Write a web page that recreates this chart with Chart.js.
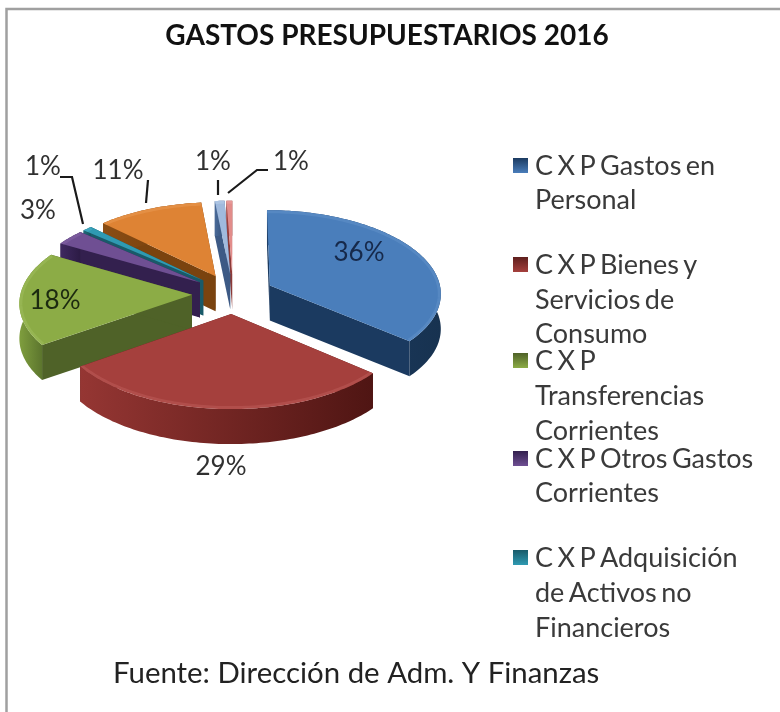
<!DOCTYPE html>
<html lang="es">
<head>
<meta charset="utf-8">
<title>Gastos presupuestarios 2016</title>
<script src="https://cdn.jsdelivr.net/npm/chart.js@4/dist/chart.umd.min.js"></script>
<style>
html,body{margin:0;padding:0;background:#fff;width:780px;height:712px;overflow:hidden}
#c{display:block;filter:blur(0.6px)}
</style>
</head>
<body>
<canvas id="c" width="780" height="712"></canvas>
<script>
const chartTitle = 'GASTOS PRESUPUESTARIOS 2016';
const sourceNote = 'Fuente: Dirección de Adm. Y Finanzas';
const categories = [
  'C X P Gastos en Personal',
  'C X P Bienes y Servicios de Consumo',
  'C X P Transferencias Corrientes',
  'C X P Otros Gastos Corrientes',
  'C X P Adquisición de Activos no Financieros',
  'Categoría fuera de la leyenda 1',
  'Categoría fuera de la leyenda 2',
  'Categoría fuera de la leyenda 3'
];
const values = [36, 29, 18, 3, 1, 11, 1, 0.6];
const legendLines = [
  ['C X P Gastos en', 'Personal'],
  ['C X P Bienes y', 'Servicios de', 'Consumo'],
  ['C X P', 'Transferencias', 'Corrientes'],
  ['C X P Otros Gastos', 'Corrientes'],
  ['C X P Adquisición', 'de Activos no', 'Financieros']
];
const topColors  = ['#4A7EBB','#A5403D','#8CAC46','#6F4F93','#2F9AB2','#DE8334','#A0BADD','#E28C8A'];
const bevelColors= ['#6E9BD1','#C96A66','#A9C76A','#8E6FB0','#5DBBD0','#F0A765','#C4D6EE','#F0B0AE'];
const wallColors = ['#1B3A60','#5E1F1D','#4F6228','#33204E','#195A69','#7A430F','#3D5A85','#8C3A38'];
const rimLeft    = ['#1F4069','#953633','#7F9E3E','#3F2960','#1F6A7A','#8A4D14','#4A6A98','#A04543'];
const rimRight   = ['#173250','#4F1513','#4E6527','#2C1B45','#174F5C','#6E3B0C','#33507A','#7E3230'];

// placement and perspective of the tilted pie
const PIE_X = 233, TILT = 0.485, PERSP = 0.0005, DEPTH = 35;

function proj(arc, X, Y, drop) {
  const w = 1 - PERSP * Y;
  return [PIE_X + X / w, arc.y + TILT * Y / w + (drop || 0)];
}
function slicePts(arc) {
  const mid = (arc.startAngle + arc.endAngle) / 2;
  const d = (arc.options.offset || 0) / 4;
  const ax = Math.cos(mid) * d, ay = Math.sin(mid) * d;
  const n = Math.max(4, Math.ceil((arc.endAngle - arc.startAngle) / 0.02));
  const rim = [];
  for (let i = 0; i <= n; i++) {
    const a = arc.startAngle + (arc.endAngle - arc.startAngle) * i / n;
    rim.push([ax + arc.outerRadius * Math.cos(a), ay + arc.outerRadius * Math.sin(a)]);
  }
  return {ax, ay, rim};
}
function poly(ctx, pts) {
  ctx.beginPath();
  pts.forEach((p, i) => i ? ctx.lineTo(p[0], p[1]) : ctx.moveTo(p[0], p[1]));
  ctx.closePath();
}
function drawSlice(ctx, arc, i) {
  const {ax, ay, rim} = slicePts(arc);
  const A = proj(arc, ax, ay), Ab = proj(arc, ax, ay, DEPTH);
  const top = rim.map(p => proj(arc, p[0], p[1]));
  const bot = rim.map(p => proj(arc, p[0], p[1], DEPTH));
  // straight inner walls
  ctx.fillStyle = wallColors[i];
  poly(ctx, [A, top[0], bot[0], Ab]); ctx.fill();
  poly(ctx, [A, top[top.length - 1], bot[bot.length - 1], Ab]); ctx.fill();
  // curved outer rim
  const xs = top.map(p => p[0]);
  const g = ctx.createLinearGradient(Math.min(...xs), 0, Math.max(...xs), 0);
  g.addColorStop(0, rimLeft[i]); g.addColorStop(1, rimRight[i]);
  ctx.fillStyle = g;
  poly(ctx, top.concat(bot.slice().reverse())); ctx.fill();
  // top face with a soft bevel along the outer edge
  ctx.save();
  poly(ctx, [A].concat(top));
  ctx.fillStyle = topColors[i];
  ctx.fill();
  ctx.clip();
  ctx.beginPath();
  top.forEach((p, j) => j ? ctx.lineTo(p[0], p[1]) : ctx.moveTo(p[0], p[1]));
  ctx.strokeStyle = bevelColors[i];
  ctx.globalAlpha = 0.35;
  ctx.lineWidth = 6;
  ctx.stroke();
  ctx.restore();
}

const pctSpots = [[359,253],[221,467],[55,301],[38,211],[43,167],[118,171],[213,162],[291,162]];
const leaders = [
  [[60,177],[72,177],[83,224]],
  [[148,180],[146,203]],
  [[218,180],[218,195]],
  [[268,170],[257,170],[228,193]]
];
const legendRows = [[165,199],[264,299,333],[360,395,430],[458,492],[557,592,627]];

const pie3d = {
  id: 'pie3d',
  beforeDatasetsDraw(chart) {
    const ctx = chart.ctx;
    const arcs = chart.getDatasetMeta(0).data;
    const order = arcs.map((a, i) => i).sort((p, q) =>
      Math.sin((arcs[p].startAngle + arcs[p].endAngle) / 2) - Math.sin((arcs[q].startAngle + arcs[q].endAngle) / 2));
    order.forEach(i => drawSlice(ctx, arcs[i], i));
    return false;
  },
  afterDraw(chart) {
    const ctx = chart.ctx;
    ctx.save();
    // frame
    ctx.strokeStyle = '#a0a0a0';
    ctx.lineWidth = 2.5;
    ctx.beginPath(); ctx.moveTo(6.5, 712); ctx.lineTo(6.5, 9); ctx.lineTo(780, 9); ctx.stroke();
    // leader lines
    ctx.strokeStyle = '#1a1a1a';
    ctx.lineWidth = 2.2;
    leaders.forEach(l => {
      ctx.beginPath();
      l.forEach((p, i) => i ? ctx.lineTo(p[0], p[1]) : ctx.moveTo(p[0], p[1]));
      ctx.stroke();
    });
    // percent labels
    ctx.textBaseline = 'middle';
    ctx.textAlign = 'center';
    ctx.font = '26px Lato';
    values.forEach((v, i) => {
      ctx.fillStyle = i === 0 ? '#16294a' : i === 2 ? '#1c2a10' : '#303030';
      ctx.fillText(Math.round(v) + '%', pctSpots[i][0], pctSpots[i][1]);
    });
    // legend
    ctx.textAlign = 'left';
    ctx.font = '27px Lato';
    ctx.wordSpacing = '-2.5px';
    legendLines.forEach((lines, i) => {
      const rows = legendRows[i];
      const g = ctx.createLinearGradient(0, rows[0] - 7, 0, rows[0] + 8);
      g.addColorStop(0, wallColors[i]); g.addColorStop(1, topColors[i]);
      ctx.fillStyle = g;
      ctx.fillRect(513, rows[0] - 7, 15, 15);
      ctx.fillStyle = '#3a3a3a';
      lines.forEach((t, j) => ctx.fillText(t, 535, rows[j] + 1));
    });
    ctx.wordSpacing = '0px';
    // source note
    ctx.font = '29.4px Lato';
    ctx.fillStyle = '#222';
    ctx.fillText(sourceNote, 113, 674);
    ctx.restore();
  }
};

new Chart(document.getElementById('c'), {
  type: 'pie',
  data: {
    labels: categories,
    datasets: [{
      data: values,
      backgroundColor: topColors,
      offset: 164,
      borderWidth: 0
    }]
  },
  options: {
    responsive: false,
    animation: false,
    radius: 171.5,
    layout: {padding: {left: 0, right: 6, top: 0, bottom: 184}},
    plugins: {
      legend: {display: false},
      tooltip: {enabled: false},
      title: {
        display: true,
        text: chartTitle,
        color: '#111',
        font: {family: 'Lato', size: 28, weight: 'bold'},
        padding: {top: 19, bottom: 7}
      }
    }
  },
  plugins: [pie3d]
});
</script>
</body>
</html>
